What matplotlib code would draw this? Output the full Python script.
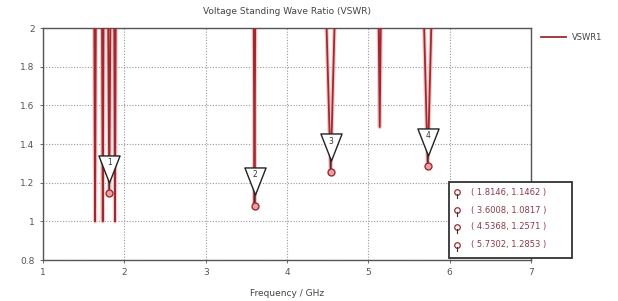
import matplotlib
matplotlib.use("Agg")
import matplotlib.pyplot as plt
from matplotlib.path import Path
from matplotlib.transforms import offset_copy
import numpy as np

# ---- data ----
freq = [1.00, 1.630, 1.640, 1.650, 1.725, 1.735, 1.745, 1.800, 1.8146, 1.830,
        1.875, 1.885, 1.895, 3.590, 3.6008, 3.610, 4.480, 4.5368, 4.590,
        5.125, 5.140, 5.155, 5.680, 5.7302, 5.780, 7.00]
vswr = [9.0, 2.1, 1.0, 2.1, 2.1, 1.0, 2.1, 2.1, 1.1462, 2.1,
        2.1, 1.0, 2.1, 2.1, 1.0817, 2.1, 2.1, 1.2571, 2.1,
        2.1, 1.488, 2.1, 2.1, 1.2853, 2.1, 9.0]
marker_ids = ["1", "2", "3", "4"]
marker_f = [1.8146, 3.6008, 4.5368, 5.7302]
marker_v = [1.1462, 1.0817, 1.2571, 1.2853]
xticks = [1, 2, 3, 4, 5, 6, 7]
yticks = [0.8, 1.0, 1.2, 1.4, 1.6, 1.8, 2.0]
ytick_labels = ["0.8", "1", "1.2", "1.4", "1.6", "1.8", "2"]

W, H = 618, 301
fig = plt.figure(figsize=(W / 100, H / 100), dpi=100)
plt.rcParams['font.family'] = ['DejaVu Sans']
L, R, T, B = 43, 531, 28, 260
ax = fig.add_axes([L / W, 1 - B / H, (R - L) / W, (B - T) / H])

red = '#9e2a30'
ax.plot(freq, vswr, color='#f5c6c8', lw=3.0, solid_capstyle='butt', zorder=2)
ax.plot(freq, vswr, color=red, lw=1.3, zorder=3, label='VSWR1')

ax.set_xlim(1, 7)
ax.set_ylim(0.8, 2.0)
ax.set_xticks(xticks)
ax.set_yticks(yticks)
ax.set_yticklabels(ytick_labels)
ax.tick_params(labelsize=6.5, colors='#555555', length=2, width=0.6, pad=4)
for lab in ax.get_xticklabels() + ax.get_yticklabels():
    lab.set_color('#555555')
ax.grid(True, which='major', color='#999999', ls=(0, (1, 1.5)), lw=0.8)
for s in ax.spines.values():
    s.set_color('#555555')
    s.set_linewidth(1.0)

fig.text(287 / W, 1 - 12 / H, 'Voltage Standing Wave Ratio (VSWR)',
         ha='center', va='center', fontsize=6.5, color='#444444')
fig.text(287 / W, 1 - 294 / H, 'Frequency / GHz',
         ha='center', va='center', fontsize=6.5, color='#444444')

# legend
fig.lines.append(plt.Line2D([541 / W, 566 / W], [1 - 37 / H, 1 - 37 / H],
                            color=red, lw=1.3, transform=fig.transFigure))
fig.text(572 / W, 1 - 37 / H, 'VSWR1', ha='left', va='center',
         fontsize=6, color='#444444')

# markers
tri = Path([(-0.78, 1.0), (0.78, 1.0), (0.0, -1.0), (-0.78, 1.0)],
           [Path.MOVETO, Path.LINETO, Path.LINETO, Path.CLOSEPOLY])
for mid, mf, mv in zip(marker_ids, marker_f, marker_v):
    ax.annotate('', xy=(mf, mv), xytext=(0, 8), textcoords='offset points',
                arrowprops=dict(arrowstyle='-', color='#333333', lw=0.8,
                                shrinkA=0, shrinkB=0), zorder=5)
    ax.plot([mf], [mv], 'o', ms=5, mfc='#e9a0a4', mec=red, mew=1.0, zorder=6)
    tr = offset_copy(ax.transData, fig=fig, x=0, y=17.6, units='points')
    ax.plot([mf], [mv], marker=tri, ms=19.5, mfc='white', mec='#222222',
            mew=1.0, transform=tr, zorder=7, clip_on=False)
    tr2 = offset_copy(ax.transData, fig=fig, x=0, y=22, units='points')
    ax.text(mf, mv, mid, transform=tr2, ha='center', va='center',
            fontsize=5.5, color='#333333', zorder=8)

# marker info box
bx0, bx1, by0, by1 = 449, 572, 182, 258
fig.patches.append(plt.Rectangle((bx0 / W, 1 - by1 / H), (bx1 - bx0) / W,
                                 (by1 - by0) / H, transform=fig.transFigure,
                                 facecolor='white', edgecolor='#333333', lw=1.3,
                                 zorder=10))
rows_y = [192, 210, 227, 245]
for yy, mf, mv in zip(rows_y, marker_f, marker_v):
    fig.lines.append(plt.Line2D([457 / W], [1 - yy / H], marker='o', ms=4,
                                mfc='white', mec=red, mew=0.9,
                                transform=fig.transFigure, zorder=11))
    fig.lines.append(plt.Line2D([457 / W, 457 / W], [1 - (yy + 2) / H, 1 - (yy + 6) / H],
                                color='#333333', lw=0.8,
                                transform=fig.transFigure, zorder=11))
    fig.text(471 / W, 1 - yy / H, '( %.4f, %.4f )' % (mf, mv), ha='left',
             va='center', fontsize=6, color='#8a3a4a', zorder=12)

fig.savefig('out.png', dpi=100)
